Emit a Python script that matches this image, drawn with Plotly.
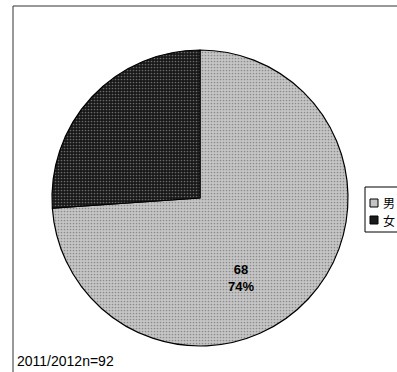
import plotly.graph_objects as go

# Respondents by gender, 2011/2012 survey
categories = ["男", "女"]
counts = [68, 24]
note = "2011/2012n=92"

W, H = 397, 372
male_fill, female_fill = "#c4c4c4", "#1a1a1a"

def px_x(x):
    return x / W

def px_y(y):
    return 1 - y / H

total = sum(counts)
male_label = f"<b>{counts[0]}<br>{round(100 * counts[0] / total)}%</b>"

fig = go.Figure(
    go.Pie(
        labels=categories,
        values=counts,
        textinfo="none",
        sort=False,
        direction="clockwise",
        rotation=0,
        marker=dict(
            colors=[male_fill, female_fill],
            line=dict(color="black", width=1.2),
            pattern=dict(
                shape=[".", "."],
                fgcolor=["#8c8c8c", "#6a6a6a"],
                bgcolor=["#c6c6c6", "#171717"],
                size=3,
                solidity=0.25,
            ),
        ),
        domain=dict(x=[px_x(52), px_x(348)], y=[px_y(346), px_y(50)]),
        showlegend=False,
        hoverinfo="label+value+percent",
    )
)

# Frame around the chart area (top and left edges)
shapes = [
    dict(type="line", xref="paper", yref="paper",
         x0=px_x(13), y0=px_y(6), x1=1, y1=px_y(6),
         line=dict(color="#333333", width=1)),
    dict(type="line", xref="paper", yref="paper",
         x0=px_x(13), y0=px_y(6), x1=px_x(13), y1=0,
         line=dict(color="#333333", width=1)),
    # legend box
    dict(type="rect", xref="paper", yref="paper",
         x0=px_x(365), y0=px_y(232), x1=px_x(430), y1=px_y(187),
         line=dict(color="black", width=1), fillcolor="white"),
]
annotations = [
    dict(text=note, xref="paper", yref="paper",
         x=px_x(15), y=px_y(371), xanchor="left", yanchor="bottom",
         showarrow=False,
         font=dict(family="Liberation Sans, Arial, sans-serif", size=14, color="black")),
    # data label for the male slice
    dict(text=male_label, xref="paper", yref="paper",
         x=px_x(241), y=px_y(278), xanchor="center", yanchor="middle",
         showarrow=False, align="center",
         font=dict(family="Liberation Sans, Arial, sans-serif", size=13, color="black")),
]

# Legend entries: swatch + label
swatches = [male_fill, female_fill]
for i, (name, fill) in enumerate(zip(categories, swatches)):
    yc = 203 + 17 * i
    shapes.append(dict(type="rect", xref="paper", yref="paper",
                       x0=px_x(370), y0=px_y(yc + 4), x1=px_x(378), y1=px_y(yc - 4),
                       line=dict(color="black", width=1), fillcolor=fill))
    annotations.append(dict(text=name, xref="paper", yref="paper",
                            x=px_x(381), y=px_y(yc), xanchor="left", yanchor="middle",
                            showarrow=False,
                            font=dict(family="Noto Sans CJK JP, sans-serif", size=12, color="black")))

fig.update_layout(
    width=W,
    height=H,
    margin=dict(l=0, r=0, t=0, b=0, autoexpand=False),
    paper_bgcolor="white",
    plot_bgcolor="white",
    font=dict(family="Noto Sans CJK JP, Liberation Sans, sans-serif", size=12, color="black"),
    shapes=shapes,
    annotations=annotations,
)

fig.write_html("out.html")
